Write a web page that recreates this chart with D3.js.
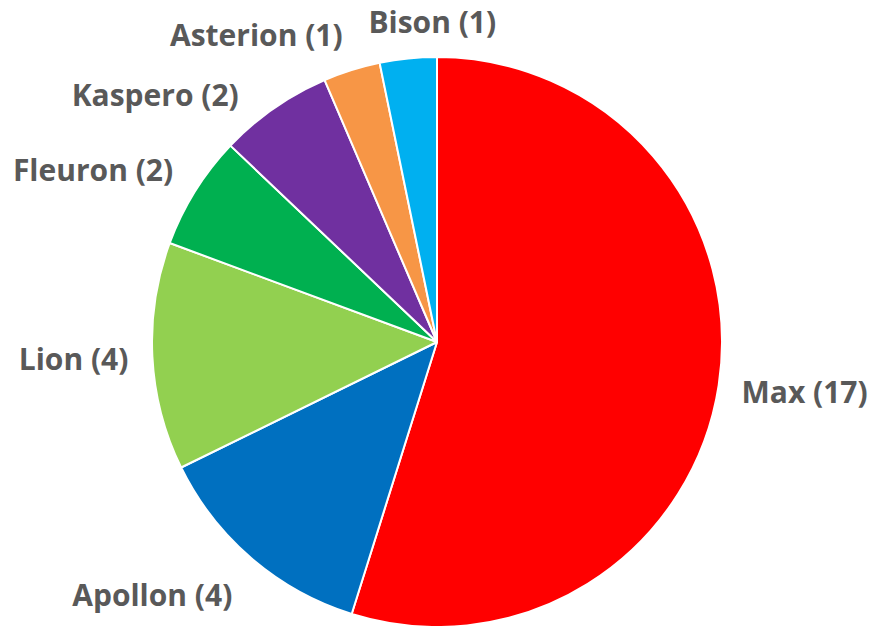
<!DOCTYPE html>
<html>
<head>
<meta charset="utf-8">
<script src="https://cdn.jsdelivr.net/npm/d3@7"></script>
<style>
  html, body { margin: 0; padding: 0; background: #fff; }
</style>
</head>
<body>
<svg id="drawing_region"></svg>
<script>
// data, clockwise from 12 o'clock
const names  = ["Max", "Apollon", "Lion", "Fleuron", "Kaspero", "Asterion", "Bison"];
const counts = [17, 4, 4, 2, 2, 1, 1];
const colors = ["#FF0000", "#0070C0", "#92D050", "#00B050", "#7030A0", "#F79646", "#00B0F0"];

// small hand nudges for label placement (px), like Excel's collision moves
const label_nudge = [[3, 2], [-6, 10], [-4, 1], [-5, -3], [-24, 16], [-3, -1], [52, -1]];

const config = {
    width: 886,
    height: 626,
    cx: 437,
    cy: 342,
    radius: 285,
    label_gap: 20,
    font_size: 30
};

const svg = d3.select('#drawing_region')
    .attr('width', config.width)
    .attr('height', config.height);

const chart = svg.append('g')
    .attr('transform', `translate(${config.cx}, ${config.cy})`);

const table = names.map((n, i) => ({ name: n, value: counts[i], color: colors[i], nudge: label_nudge[i] }));

const pie = d3.pie()
    .sort(null)
    .value(d => d.value);

const arc = d3.arc()
    .innerRadius(0)
    .outerRadius(config.radius);

const arcs = pie(table);

chart.selectAll('path')
    .data(arcs)
    .enter()
    .append('path')
    .attr('d', arc)
    .style('fill', d => d.data.color)
    .style('stroke', '#fff')
    .style('stroke-width', 2)
    .style('stroke-linejoin', 'round');

const labels = chart.selectAll('text')
    .data(arcs)
    .enter()
    .append('text')
    .attr('text-anchor', 'middle')
    .style('font-family', '"Open Sans", sans-serif')
    .style('font-weight', 'bold')
    .style('font-size', config.font_size + 'px')
    .style('fill', '#595959')
    .text(d => `${d.data.name} (${d.data.value})`);

labels.each(function(d) {
    const w = this.getComputedTextLength();
    const h = 30;
    const mid = (d.startAngle + d.endAngle) / 2;
    const s = Math.sin(mid), c = -Math.cos(mid);
    const r = config.radius + config.label_gap;
    const f = Math.max(-1, Math.min(1, s * 4));
    const x = r * s + f * w / 2 + d.data.nudge[0];
    const y = r * c + c * h / 2 + d.data.nudge[1];
    d3.select(this)
        .attr('x', x)
        .attr('y', y + config.font_size * 0.36);
});
</script>
</body>
</html>
